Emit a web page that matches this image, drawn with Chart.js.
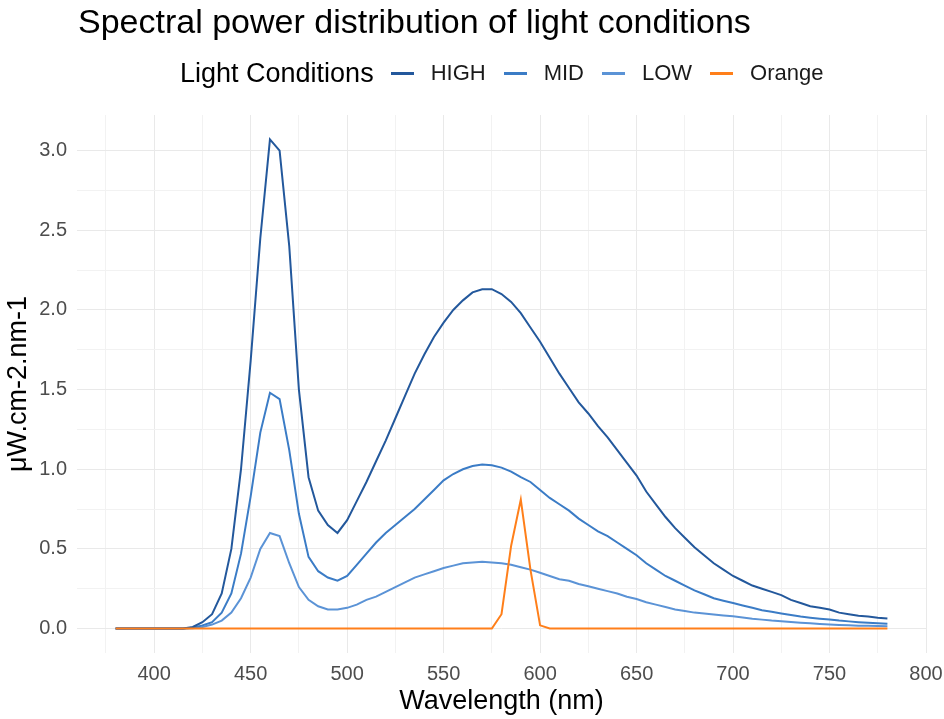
<!DOCTYPE html>
<html lang="en">
<head>
  <meta charset="UTF-8">
  <title>Spectral power distribution</title>
  <script src="https://cdn.jsdelivr.net/npm/chart.js"></script>
  <style>
    body { margin: 0; background: #fff; font-family: "Liberation Sans", Arial, sans-serif; }
    #wrap { position: relative; width: 944px; height: 719px; }
    #title { position: absolute; left: 78px; top: 2px; font-size: 34px; color: #000; white-space: nowrap; }
    #legend { position: absolute; left: 180px; top: 56px; height: 34px; display: flex; align-items: center; white-space: nowrap; }
    #legend .ltitle { font-size: 27px; color: #000; margin-right: 17px; }
    #legend .item { display: flex; align-items: center; margin-right: 18px; font-size: 22px; color: #1a1a1a; }
    #legend .sw { width: 23px; height: 3px; margin-right: 17px; }
  </style>
</head>
<body>
  <div id="wrap">
    <canvas id="spdChart" width="944" height="719"></canvas>
    <div id="title">Spectral power distribution of light conditions</div>
    <div id="legend"><span class="ltitle">Light Conditions</span></div>
  </div>

  <script>
    // wavelength grid, 380..780 nm every 5 nm
    const wavelengths = [];
    for (let w = 380; w <= 780; w += 5) wavelengths.push(w);

    const highValues = [
      0, 0, 0, 0, 0, 0, 0, 0,
      0.01, 0.04, 0.09, 0.22, 0.5, 1.0, 1.68, 2.45, 3.07, 3.0,
      2.4, 1.5, 0.95, 0.74, 0.65, 0.6, 0.68, 0.8, 0.92, 1.05,
      1.18, 1.32, 1.46, 1.6, 1.72, 1.83, 1.92, 2.0, 2.06, 2.11,
      2.13, 2.13, 2.1, 2.05, 1.98, 1.89, 1.8, 1.7, 1.6, 1.51,
      1.42, 1.35, 1.27, 1.2, 1.12, 1.04, 0.96, 0.86, 0.78, 0.7,
      0.63, 0.57, 0.51, 0.46, 0.41, 0.37, 0.33, 0.3, 0.27, 0.25,
      0.23, 0.21, 0.18, 0.16, 0.14, 0.13, 0.12, 0.1, 0.09, 0.08,
      0.075, 0.068, 0.063
    ];

    const midValues = [
      0, 0, 0, 0, 0, 0, 0, 0,
      0.005, 0.02, 0.04, 0.1, 0.22, 0.47, 0.83, 1.23, 1.48, 1.44,
      1.12, 0.72, 0.45, 0.36, 0.32, 0.3, 0.33, 0.4, 0.47, 0.54,
      0.6, 0.65, 0.7, 0.75, 0.81, 0.87, 0.93, 0.97, 1.0, 1.02,
      1.03, 1.025, 1.01, 0.985, 0.95, 0.92, 0.87, 0.82, 0.78, 0.74,
      0.69, 0.65, 0.61, 0.58, 0.54, 0.5, 0.46, 0.41, 0.37, 0.33,
      0.3, 0.27, 0.24, 0.215, 0.19, 0.175, 0.16, 0.145, 0.13, 0.115,
      0.105, 0.095, 0.085, 0.075, 0.068, 0.062, 0.057, 0.05, 0.045, 0.04,
      0.036, 0.033, 0.03
    ];

    const lowValues = [
      0, 0, 0, 0, 0, 0, 0, 0,
      0.002, 0.01, 0.025, 0.05, 0.1, 0.19, 0.32, 0.5, 0.6, 0.58,
      0.41, 0.26, 0.18, 0.14, 0.12, 0.12, 0.13, 0.15, 0.18, 0.2,
      0.23, 0.26, 0.29, 0.32, 0.34, 0.36, 0.38, 0.395, 0.41, 0.415,
      0.42, 0.415, 0.41, 0.4, 0.385, 0.37, 0.35, 0.33, 0.31, 0.3,
      0.28, 0.265, 0.25, 0.235, 0.22, 0.2, 0.185, 0.165, 0.15, 0.135,
      0.12, 0.11, 0.1, 0.095, 0.088, 0.082, 0.077, 0.07, 0.062, 0.056,
      0.05, 0.046, 0.041, 0.037, 0.033, 0.029, 0.025, 0.022, 0.02, 0.018,
      0.017, 0.016, 0.015
    ];

    const orangeValues = [
      0, 0, 0, 0, 0, 0, 0, 0,
      0, 0, 0, 0, 0, 0, 0, 0, 0, 0,
      0, 0, 0, 0, 0, 0, 0, 0, 0, 0,
      0, 0, 0, 0, 0, 0, 0, 0, 0, 0,
      0, 0, 0.09, 0.52, 0.81, 0.37, 0.02, 0, 0, 0,
      0, 0, 0, 0, 0, 0, 0, 0, 0, 0,
      0, 0, 0, 0, 0, 0, 0, 0, 0, 0,
      0, 0, 0, 0, 0, 0, 0, 0, 0, 0,
      0, 0, 0
    ];

    const seriesNames = ['HIGH', 'MID', 'LOW', 'Orange'];
    const seriesColors = ['#23589c', '#3b7cc6', '#5b93d6', '#ff7f1a'];
    const seriesValues = [highValues, midValues, lowValues, orangeValues];

    const xTicks = [];
    for (let w = 375; w <= 800; w += 25) xTicks.push(w);
    const yTicks = [0, 0.25, 0.5, 0.75, 1, 1.25, 1.5, 1.75, 2, 2.25, 2.5, 2.75, 3];

    // legend row
    const legend = document.getElementById('legend');
    seriesNames.forEach((name, i) => {
      const item = document.createElement('span');
      item.className = 'item';
      item.innerHTML = '<span class="sw" style="background:' + seriesColors[i] + '"></span>' + name;
      legend.appendChild(item);
    });

    Chart.defaults.font.family = '"Liberation Sans", Arial, sans-serif';

    const datasets = seriesNames.map((name, i) => ({
      label: name,
      data: wavelengths.map((w, j) => ({ x: w, y: seriesValues[i][j] })),
      borderColor: seriesColors[i],
      borderWidth: 2,
      pointRadius: 0,
      tension: 0,
      fill: false,
      order: name === 'Orange' ? 0 : i + 1
    }));

    new Chart(document.getElementById('spdChart'), {
      type: 'line',
      data: { datasets: datasets },
      options: {
        responsive: false,
        animation: false,
        layout: { padding: { top: 115, right: 18, left: 0, bottom: 0 } },
        plugins: { legend: { display: false }, tooltip: { enabled: false } },
        scales: {
          x: {
            type: 'linear',
            min: 360,
            max: 800,
            afterBuildTicks: s => { s.ticks = xTicks.map(v => ({ value: v })); },
            afterFit: s => {
              s.height = 66;
              // labels may overhang the panel edge, keep the panel fixed
              s.paddingLeft = 0;
              s.paddingRight = 0;
            },
            grid: {
              drawTicks: false,
              color: c => (c.tick && c.tick.value % 50 === 0) ? '#e9e9e9' : '#f2f2f2',
              lineWidth: 1
            },
            border: { display: false },
            ticks: {
              autoSkip: false,
              maxRotation: 0,
              padding: 9,
              color: '#4d4d4d',
              font: { size: 20 },
              callback: v => v % 50 === 0 ? String(v) : ''
            },
            title: {
              display: true,
              text: 'Wavelength (nm)',
              color: '#000',
              font: { size: 27 },
              padding: { top: 0, bottom: 1 }
            }
          },
          y: {
            min: -0.1535,
            max: 3.2235,
            afterBuildTicks: s => { s.ticks = yTicks.map(v => ({ value: v })); },
            afterFit: s => {
              s.width = 77;
              s.paddingTop = 0;
              s.paddingBottom = 0;
            },
            grid: {
              drawTicks: false,
              color: c => (c.tick && c.tick.value % 0.5 === 0) ? '#e9e9e9' : '#f2f2f2',
              lineWidth: 1
            },
            border: { display: false },
            ticks: {
              padding: 10,
              color: '#4d4d4d',
              font: { size: 20 },
              callback: v => v % 0.5 === 0 ? v.toFixed(1) : ''
            },
            title: {
              display: true,
              text: 'μW.cm-2.nm-1',
              color: '#000',
              font: { size: 27 },
              padding: { top: 2, bottom: 0 }
            }
          }
        }
      }
    });
  </script>
</body>
</html>
